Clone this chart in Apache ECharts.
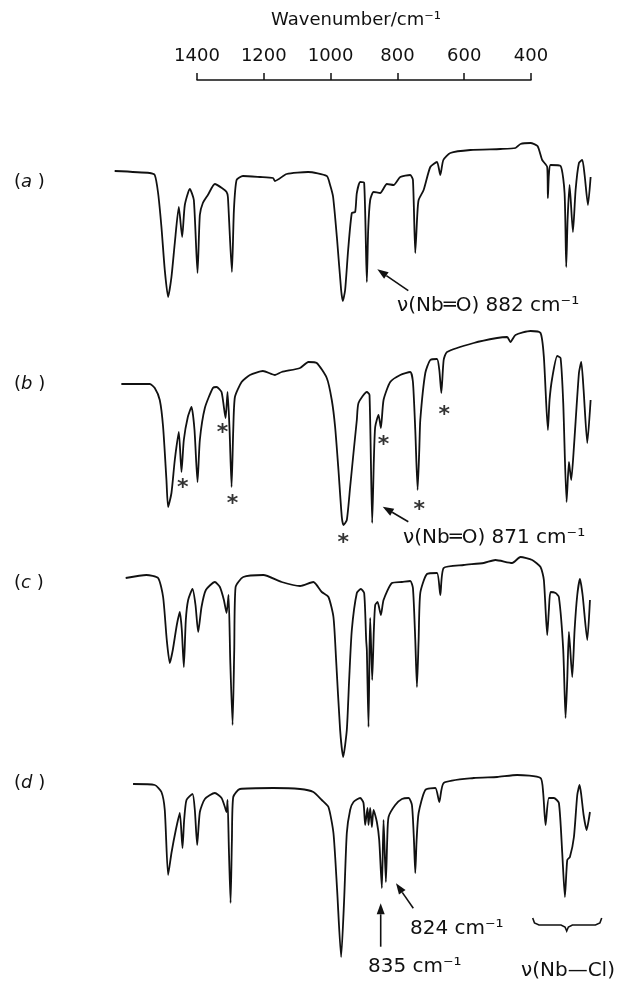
<!DOCTYPE html>
<html>
<head>
<meta charset="utf-8">
<script src="https://cdn.jsdelivr.net/npm/echarts@6/dist/echarts.min.js"></script>
<style>
  html, body { margin: 0; padding: 0; background: #fff; }
  #main { width: 618px; height: 983px; }
</style>
</head>
<body>
<div id="main"></div>
<script>
// top axis ticks (cm-1)
const axisTicks = [1400, 1200, 1000, 800, 600, 400];

// spectra as [wavenumber, %T]
const specA = [
  [1646, 69.5], [1541, 68.5], [1526, 67.5], [1516, 58.5], [1506, 41.5], [1496, 20], [1486, 6.5],
  [1476, 16.5], [1466, 33.5], [1454, 51.5], [1444, 36.5], [1436, 52.5], [1421, 60.5], [1409, 55],
  [1398, 18.5], [1391, 47.5], [1382, 53.5], [1367, 57.5], [1346, 63], [1325, 61], [1311, 59],
  [1307, 56.5], [1295, 19], [1289, 50], [1281, 65], [1262, 67], [1211, 66.5], [1172, 66],
  [1166, 64.5], [1131, 68], [1067, 69], [1011, 67], [1001, 62.5], [992, 56.5], [980, 35],
  [968, 10], [963, 4.5], [956, 10], [947, 30], [936, 48.5], [926, 49], [921, 58.5], [911, 64],
  [899, 63.5], [891, 14], [887, 40], [881, 55], [871, 59], [851, 58.5], [831, 63], [811, 62.5],
  [791, 66.5], [761, 67.5], [753, 65], [746, 28.5], [740, 47.5], [736, 55], [721, 60], [701, 71.5],
  [681, 74], [671, 67.5], [662, 75], [641, 78.5], [581, 80], [491, 80.5], [446, 81], [431, 83],
  [401, 83.5], [380, 82], [366, 75], [351, 71.5], [349, 56], [346, 67.5], [341, 72.5], [311, 72],
  [299, 58.5], [294, 21.5], [290, 45], [284, 62.5], [274, 39], [266, 60], [256, 73.5], [246, 75],
  [239, 67.5], [229, 52.5], [221, 66.5]
];

const specB = [
  [1626, 78], [1541, 78], [1526, 76], [1511, 70], [1501, 56.5], [1491, 30], [1486, 16.5],
  [1476, 23.5], [1466, 40], [1454, 54], [1446, 34], [1439, 50], [1427, 61.5], [1416, 66.5],
  [1407, 55], [1398, 29], [1391, 50], [1376, 66], [1352, 76], [1341, 76.5], [1326, 74],
  [1314, 61], [1308, 74], [1302, 55], [1296, 26.5], [1291, 55], [1286, 71.5], [1266, 79],
  [1241, 82.5], [1202, 84.5], [1166, 82.5], [1146, 84], [1091, 86], [1066, 89], [1041, 88.5],
  [1011, 81], [996, 70], [986, 56.5], [976, 35], [966, 11.5], [961, 7.5], [951, 10], [941, 26.5],
  [931, 43.5], [921, 60], [916, 68.5], [891, 74], [883, 72.5], [875, 8.5], [870, 40], [866, 56.5],
  [856, 62.5], [849, 56], [841, 70], [821, 79], [791, 82.5], [761, 84], [753, 79], [746, 55],
  [739, 25], [734, 45], [731, 60], [716, 83.5], [701, 90], [681, 90.5], [674, 85], [668, 73.5],
  [661, 90], [651, 94], [571, 98.5], [501, 101], [471, 101.5], [461, 99], [446, 102.5],
  [401, 104.5], [371, 103.5], [361, 91.5], [349, 55], [344, 70], [336, 81], [321, 92], [311, 91],
  [303, 68.5], [293, 19], [286, 39], [283, 35], [279, 30], [271, 46.5], [256, 83.5], [249, 89],
  [242, 75], [231, 48.5], [221, 70]
];

const specC = [
  [1613, 96], [1551, 97.5], [1516, 96], [1501, 86.5], [1490, 65], [1481, 53.5], [1472, 60],
  [1460, 72.5], [1451, 79], [1445, 70], [1439, 51.5], [1433, 75], [1426, 85], [1413, 90.5],
  [1404, 82.5], [1396, 69], [1386, 81.5], [1373, 90], [1346, 94], [1331, 91.5], [1319, 85],
  [1311, 78.5], [1305, 87.5], [1300, 55], [1293, 22.5], [1288, 60], [1284, 91.5], [1261, 96.5],
  [1201, 97.5], [1146, 94], [1091, 92], [1051, 94], [1026, 89], [1006, 86.5], [991, 76.5],
  [983, 55], [971, 20], [962, 6.5], [951, 20], [944, 45], [936, 70], [921, 88.5], [909, 90.5],
  [899, 88.5], [893, 65], [891, 60], [886, 21.5], [883, 60], [881, 76], [875, 45], [870, 70],
  [866, 82.5], [859, 84], [849, 77.5], [841, 85], [816, 93.5], [786, 94], [761, 94.5], [753, 91],
  [746, 65], [741, 41.5], [736, 65], [731, 88.5], [711, 98], [681, 98.5], [671, 87.5], [661, 101],
  [601, 102.5], [541, 103.5], [506, 105], [456, 103.5], [431, 106.5], [396, 105], [371, 101.5],
  [361, 95], [351, 67.5], [346, 80], [341, 89], [326, 88.5], [316, 86.5], [303, 60], [296, 26],
  [291, 45], [286, 69], [276, 46.5], [269, 70], [261, 87.5], [253, 95.5], [245, 87.5], [231, 65],
  [223, 85]
];

const specD = [
  [1591, 93], [1526, 92.5], [1506, 89], [1496, 80], [1486, 47.5], [1476, 58.5], [1463, 70],
  [1451, 78.5], [1443, 61], [1438, 75], [1431, 85], [1413, 88], [1406, 80], [1399, 62.5],
  [1391, 79], [1376, 85.5], [1346, 88.5], [1326, 86], [1316, 81.5], [1311, 79], [1308, 85],
  [1304, 60], [1299, 33.5], [1295, 65], [1291, 86.5], [1271, 90.5], [1171, 91], [1091, 90.5],
  [1051, 89], [1026, 85], [1006, 81.5], [991, 68.5], [980, 40], [968, 6.5], [959, 35], [951, 68.5],
  [941, 80], [931, 84], [911, 86], [901, 83.5], [896, 72.5], [889, 81], [886, 72.5], [881, 81],
  [876, 71.5], [871, 80], [861, 74], [854, 65], [846, 41], [841, 75], [834, 44], [830, 65],
  [826, 76.5], [806, 82.5], [786, 85.5], [766, 86], [756, 82.5], [750, 65], [746, 48.5], [742, 65],
  [736, 78.5], [716, 90], [686, 91], [674, 84], [661, 93.5], [571, 96], [501, 96.5], [441, 97.5],
  [371, 96], [363, 88.5], [356, 72.5], [346, 86], [331, 86], [316, 83.5], [306, 58.5], [298, 36.5],
  [291, 55], [283, 56.5], [271, 66.5], [261, 87.5], [254, 92.5], [249, 87.5], [242, 77.5],
  [233, 70], [223, 79]
];

// asterisks marking bands in (b)
const starsB = [[1442, 28.5], [1323, 56], [1293, 20.5], [962, 1], [841, 50], [734, 17.5], [659, 65]];

const traceLabels = ['a', 'b', 'c', 'd'];

const ink = '#111';
const font = 'DejaVu Sans';
const gridTops = [90, 320, 550, 750];

const myChart = echarts.init(document.getElementById('main'), null, { renderer: 'canvas' });

const grids = gridTops.map(t => ({ left: 110, width: 501, top: t, height: 220 }));
grids.push({ left: 197, width: 334, top: 79, height: 1 });

const xAxes = gridTops.map((t, i) => ({
  gridIndex: i, type: 'value', min: 160, max: 1660, inverse: true, show: false
}));
xAxes.push({
  gridIndex: 4,
  type: 'value',
  position: 'top',
  inverse: true,
  min: axisTicks[axisTicks.length - 1],
  max: axisTicks[0],
  interval: 200,
  axisLine: { show: true, lineStyle: { color: ink, width: 1.5 } },
  axisTick: { show: true, length: 7, lineStyle: { color: ink, width: 1.5 } },
  axisLabel: {
    show: true, margin: 14, fontSize: 18, fontFamily: font, color: ink,
    formatter: v => String(v)
  },
  splitLine: { show: false }
});

const yAxes = gridTops.map((t, i) => ({ gridIndex: i, type: 'value', min: 0, max: 110, show: false }));
yAxes.push({ gridIndex: 4, type: 'value', show: false });

const lineSeries = [specA, specB, specC, specD].map((d, i) => ({
  type: 'line',
  xAxisIndex: i,
  yAxisIndex: i,
  data: d,
  showSymbol: false,
  smooth: 0.2,
  lineStyle: { color: ink, width: 1.8 },
  silent: true
}));

function arrow(x1, y1, x2, y2) {
  const dx = x2 - x1, dy = y2 - y1, len = Math.hypot(dx, dy);
  const ux = dx / len, uy = dy / len, hl = 11, hw = 4;
  const bx = x2 - ux * hl, by = y2 - uy * hl;
  return [
    { type: 'line', shape: { x1: x1, y1: y1, x2: bx, y2: by }, style: { stroke: ink, lineWidth: 1.6 } },
    { type: 'polygon', shape: { points: [[x2, y2], [bx - uy * hw, by + ux * hw], [bx + uy * hw, by - ux * hw]] },
      style: { fill: ink } }
  ];
}

function label(x, y, text, size, align) {
  return {
    type: 'text', x: x, y: y,
    style: { text: text, fontSize: size || 20, fontFamily: font, fill: ink,
             align: align || 'left', verticalAlign: 'middle' }
  };
}

const labelY = [182, 384, 583, 783];
const graphics = [
  label(356, 20, 'Wavenumber/cm\u207B\u00B9', 18, 'center'),
  label(397, 306, '\u03BD(Nb\u2550O) 882 cm\u207B\u00B9'),
  label(403, 538, '\u03BD(Nb\u2550O) 871 cm\u207B\u00B9'),
  label(410, 929, '824 cm\u207B\u00B9'),
  label(368, 967, '835 cm\u207B\u00B9'),
  label(521, 971, '\u03BD(Nb\u2014Cl)'),
  {
    type: 'polyline',
    shape: { points: [[532.7, 918], [534.5, 923], [539, 925], [561, 925], [565, 927], [566.7, 931],
                      [568.4, 927], [572.4, 925], [595.4, 925], [599.9, 923], [601.7, 918]] },
    style: { stroke: ink, lineWidth: 1.6, fill: null }
  }
].concat(
  arrow(408.3, 290.7, 377.3, 269.3),
  arrow(408.3, 521.7, 382.7, 506.7),
  arrow(380.7, 946.7, 380.7, 903.3),
  arrow(413.3, 908.3, 396, 883.3),
  traceLabels.map((l, i) => ({
    type: 'text', x: 14, y: labelY[i],
    style: {
      text: '({i|' + l + '} )',
      fontSize: 18, fontFamily: font, fill: ink, verticalAlign: 'middle',
      rich: { i: { fontStyle: 'italic', fontSize: 18, fontFamily: font, fill: ink } }
    }
  }))
);

let option = {
  backgroundColor: '#fff',
  animation: false,
  grid: grids,
  xAxis: xAxes,
  yAxis: yAxes,
  series: lineSeries.concat([{
    type: 'scatter',
    xAxisIndex: 1,
    yAxisIndex: 1,
    data: starsB,
    symbolSize: 2,
    itemStyle: { color: 'rgba(0,0,0,0)' },
    label: {
      show: true, position: 'inside', formatter: '*', offset: [0, 5],
      fontSize: 22, fontWeight: 'bold', fontFamily: font, color: '#000',
      textBorderWidth: 0, textBorderColor: 'transparent'
    },
    silent: true
  }]),
  graphic: graphics
};
myChart.setOption(option);
</script>
</body>
</html>
